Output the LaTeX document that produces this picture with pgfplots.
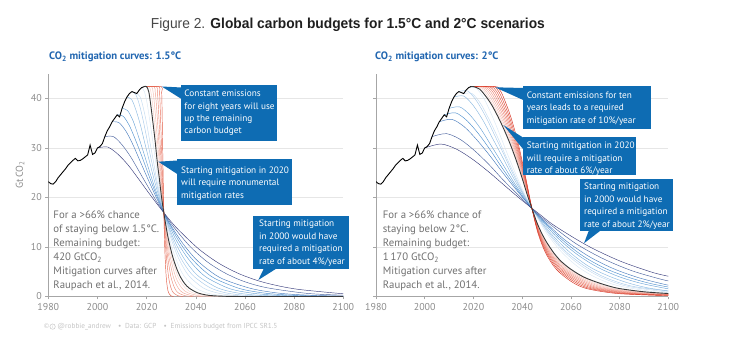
\documentclass[border=0pt]{standalone}
\usepackage{fontspec}
\setmainfont{PT Sans}
\newfontfamily\titlefont{Liberation Sans}
\newfontfamily\dejavu{DejaVu Sans}
\usepackage{graphicx}
\usepackage{pgfplots}
\pgfplotsset{compat=1.18}
\definecolor{boxblue}{HTML}{0E6CB3}
\definecolor{titleblue}{HTML}{2166B0}
\definecolor{axisgray}{HTML}{A6A6A6}
\definecolor{gridgray}{HTML}{E6E6E6}
\definecolor{tickgray}{HTML}{8C8C8C}
\definecolor{textgray}{HTML}{707070}
\definecolor{footgray}{HTML}{C4C4C4}
\definecolor{bA}{HTML}{3B3F7E}\definecolor{bB}{HTML}{4A629E}\definecolor{bC}{HTML}{4A7DBE}
\definecolor{bD}{HTML}{4F90CE}\definecolor{bE}{HTML}{6AA3D7}\definecolor{bF}{HTML}{8AB8E0}
\definecolor{bG}{HTML}{A8CAEA}\definecolor{bH}{HTML}{C4DBF0}\definecolor{bI}{HTML}{DAE8F5}
\definecolor{pA}{HTML}{F9D2CA}\definecolor{pB}{HTML}{F5BBAF}\definecolor{pC}{HTML}{F1A394}
\definecolor{pD}{HTML}{ED8B79}\definecolor{pE}{HTML}{E8735F}\definecolor{pF}{HTML}{E25A44}
\definecolor{qA}{HTML}{F9D3CC}\definecolor{qB}{HTML}{F6C0B6}\definecolor{qC}{HTML}{F3ACA0}
\definecolor{qD}{HTML}{F0978A}\definecolor{qE}{HTML}{EC8373}\definecolor{qF}{HTML}{E86E5C}
\definecolor{qG}{HTML}{E35A46}\definecolor{qH}{HTML}{DD4632}\definecolor{qI}{HTML}{D7301F}
\pgfplotsset{
  panel/.style={
    scale only axis, anchor=south west, height=222.75bp,
    xmin=1980, xmax=2100, ymin=0, ymax=45,
    axis x line=bottom, axis y line=left,
    axis line style={-, draw=axisgray, line width=0.8bp},
    xtick={1980,2000,...,2100}, ytick={0,10,20,30,40},
    ymajorgrids, grid style={draw=gridgray, line width=0.6bp},
    tick style={draw=axisgray, line width=0.6bp},
    major tick length=3bp, tick align=outside,
    tick label style={font=\fontsize{10}{12}\selectfont, text=tickgray},
    /pgf/number format/1000 sep={},
    /pgf/number format/assume math mode=true,
    clip=true,
  },
  cv/.style={smooth, tension=0.5, line width=0.45bp, mark=none, color=#1},
  blk/.style={smooth, tension=0.5, line width=0.9bp, mark=none, color=black!78},
  hist/.style={sharp plot, line width=0.9bp, mark=none, color=black},
}
\begin{document}
\begin{tikzpicture}
\path[use as bounding box] (0,0) rectangle (737bp,340bp);
% ---------------- Panel 1 ----------------
\begin{axis}[panel, at={(48.3bp,43.5bp)}, width=295bp]
\addplot[cv=bI] coordinates {(2018,42.2)(2019.1,41.4)(2020.2,39.0)(2021.3,35.5)(2022.4,31.7)(2023.5,27.9)(2024.5,24.2)(2025.6,20.7)(2026.7,17.6)(2028.9,12.5)(2031.1,8.7)(2033.3,5.9)(2035.4,4.0)(2039.8,1.8)(2044.2,0.76)(2048.5,0.32)(2052.9,0.13)(2062,0.02)};
\addplot[cv=bH] coordinates {(2016,41.0)(2017.4,40.3)(2018.7,38.0)(2020.1,34.7)(2021.4,31.0)(2022.8,27.2)(2024.1,23.6)(2025.5,20.3)(2026.8,17.2)(2029.6,12.2)(2032.3,8.5)(2035.0,5.8)(2037.7,3.9)(2043.1,1.7)(2048.5,0.75)(2053.9,0.31)(2059.4,0.13)(2070.2,0.02)};
\addplot[cv=bG] coordinates {(2014,41.4)(2015.6,40.8)(2017.2,38.5)(2018.8,35.1)(2020.3,31.4)(2021.9,27.6)(2023.5,24.0)(2025.1,20.6)(2026.7,17.5)(2029.9,12.4)(2033.0,8.6)(2036.2,5.9)(2039.4,4.0)(2045.7,1.8)(2052.0,0.76)(2058.4,0.32)(2064.7,0.13)(2077.4,0.02)};
\addplot[cv=bF] coordinates {(2012,40.3)(2013.9,39.8)(2015.7,37.6)(2017.6,34.4)(2019.4,30.7)(2021.3,27.0)(2023.1,23.5)(2025.0,20.2)(2026.8,17.2)(2030.5,12.2)(2034.2,8.5)(2037.9,5.8)(2041.6,3.9)(2049.1,1.7)(2056.5,0.75)(2063.9,0.31)(2071.3,0.13)(2086.1,0.02)};
\addplot[cv=bE] coordinates {(2010,38.0)(2012.2,37.6)(2014.4,35.6)(2016.5,32.6)(2018.7,29.2)(2020.9,25.7)(2023.1,22.3)(2025.3,19.2)(2027.5,16.3)(2031.8,11.6)(2036.2,8.1)(2040.6,5.5)(2044.9,3.7)(2053.7,1.6)(2062.4,0.71)(2071.1,0.3)(2079.8,0.12)(2097.3,0.02)};
\addplot[cv=bD] coordinates {(2008,36.7)(2010.5,36.4)(2013.0,34.5)(2015.5,31.6)(2018.0,28.4)(2020.5,25.0)(2023.0,21.7)(2025.5,18.7)(2028.0,15.9)(2033.0,11.3)(2037.9,7.9)(2042.9,5.4)(2047.9,3.6)(2057.9,1.6)(2067.9,0.69)(2077.9,0.29)(2087.8,0.12)(2100,0.04)};
\addplot[cv=bC] coordinates {(2006,35.3)(2008.8,35.1)(2011.7,33.3)(2014.5,30.6)(2017.3,27.4)(2020.1,24.2)(2023.0,21.0)(2025.8,18.1)(2028.6,15.4)(2034.3,11.0)(2039.9,7.6)(2045.6,5.2)(2051.2,3.5)(2062.6,1.6)(2073.9,0.67)(2085.2,0.28)(2096.5,0.12)(2105,0.05)};
\addplot[cv=bB] coordinates {(2003,32.3)(2006.5,32.3)(2009.9,30.7)(2013.4,28.3)(2016.8,25.4)(2020.3,22.4)(2023.7,19.5)(2027.2,16.8)(2030.6,14.3)(2037.5,10.2)(2044.4,7.1)(2051.3,4.9)(2058.2,3.3)(2065.1,2.2)(2072.1,1.5)(2085.9,0.6)(2099.7,0.26)(2103,0.2)};
\addplot[cv=bA] coordinates {(2000,30.0)(2004.1,30.2)(2008.2,28.8)(2012.4,26.6)(2016.5,23.9)(2020.6,21.1)(2024.7,18.4)(2028.8,15.8)(2032.9,13.5)(2041.2,9.6)(2049.4,6.7)(2057.6,4.6)(2065.9,3.1)(2074.1,2.1)(2082.4,1.4)(2098.8,0.6)(2102,0.5)};
% red: delayed mitigation
\addplot[cv=pA] coordinates {(2019,42.4)(2021,42.4)(2021.74,41.3)(2022.48,38.6)(2023.96,31.2)(2025.44,23.7)(2026.92,17.2)(2028.40,12.2)(2029.88,8.4)(2032.84,3.9)(2035.80,1.7)(2038.75,0.74)(2044.67,0.13)(2050.59,0.02)};
\addplot[cv=pB] coordinates {(2019,42.4)(2022,42.4)(2022.62,41.3)(2023.23,38.6)(2024.47,31.2)(2025.70,23.7)(2026.93,17.2)(2028.16,12.2)(2029.40,8.4)(2031.86,3.9)(2034.33,1.7)(2036.79,0.74)(2041.72,0.13)(2046.65,0.02)};
\addplot[cv=pC] coordinates {(2019,42.4)(2023,42.4)(2023.49,41.3)(2023.99,38.6)(2024.97,31.2)(2025.96,23.7)(2026.94,17.2)(2027.93,12.2)(2028.92,8.4)(2030.89,3.9)(2032.86,1.7)(2034.83,0.74)(2038.78,0.13)(2042.72,0.02)};
\addplot[cv=pD] coordinates {(2019,42.4)(2024,42.4)(2024.37,41.3)(2024.74,38.6)(2025.48,31.2)(2026.22,23.7)(2026.96,17.2)(2027.70,12.2)(2028.44,8.4)(2029.92,3.9)(2031.40,1.7)(2032.87,0.74)(2035.83,0.13)(2038.79,0.02)};
\addplot[cv=pE] coordinates {(2019,42.4)(2025,42.4)(2025.25,41.3)(2025.49,38.6)(2025.99,31.2)(2026.48,23.7)(2026.97,17.2)(2027.47,12.2)(2027.96,8.4)(2028.94,3.9)(2029.93,1.7)(2030.92,0.74)(2032.89,0.13)(2034.86,0.02)};
\addplot[cv=pF] coordinates {(2019,42.4)(2026,42.4)(2026.12,41.3)(2026.25,38.6)(2026.49,31.2)(2026.74,23.7)(2026.99,17.2)(2027.23,12.2)(2027.48,8.4)(2027.97,3.9)(2028.47,1.7)(2028.96,0.74)(2029.94,0.13)(2030.93,0.02)};
% black: start mitigation 2020
\addplot[blk] coordinates {(2019,42.4)(2020,42.4)(2020.9,41.3)(2021.7,38.6)(2022.6,35.0)(2023.5,31.2)(2024.3,27.3)(2025.2,23.7)(2026.0,20.3)(2026.9,17.2)(2028.6,12.2)(2030.4,8.4)(2032.1,5.8)(2033.8,3.9)(2035.5,2.6)(2037.3,1.7)(2040.7,0.74)(2044.2,0.31)(2047.6,0.13)(2054.5,0.02)(2070,0)(2100,0)};
% historical
\addplot[hist] coordinates {(1980,23.2)(1981,22.8)(1982,22.7)(1983,23.2)(1984,24.0)(1985,24.6)(1986,25.2)(1987,25.8)(1988,26.5)(1989,27.0)(1990,27.5)(1991,27.9)(1992,27.4)(1993,27.5)(1994,27.8)(1995,28.2)(1996,28.6)(1997,30.6)(1998,28.7)(1999,29.0)(2000,30.0)(2001,30.3)(2002,30.9)(2003,32.3)(2004,33.5)(2005,34.3)(2006,35.3)(2007,36.0)(2008,36.7)(2009,36.3)(2010,38.0)(2011,39.3)(2012,40.3)(2013,41.0)(2014,41.4)(2015,41.2)(2016,41.0)(2017,41.7)(2018,42.2)(2019,42.4)};
\end{axis}
% ---------------- Panel 2 ----------------
\begin{axis}[panel, at={(376bp,43.5bp)}, width=292.3bp, yticklabels={}]
\addplot[cv=bI] coordinates {(2018,42.2)(2021.1,42.1)(2024.3,40.0)(2027.4,36.8)(2030.6,33.0)(2033.7,29.1)(2036.9,25.3)(2040.0,21.8)(2043.2,18.6)(2049.5,13.2)(2055.8,9.2)(2062.1,6.3)(2068.4,4.3)(2074.7,2.9)(2081.0,2.0)(2093.5,1.0)(2100,0.75)};
\addplot[cv=bH] coordinates {(2016,41.0)(2019.4,41.0)(2022.9,39.0)(2026.3,35.9)(2029.8,32.3)(2033.2,28.5)(2036.7,24.8)(2040.1,21.3)(2043.6,18.2)(2050.5,12.9)(2057.3,9.0)(2064.2,6.2)(2071.1,4.2)(2078.0,2.8)(2084.9,1.9)(2098.7,0.95)(2102,0.85)};
\addplot[cv=bG] coordinates {(2014,41.4)(2017.7,41.5)(2021.3,39.5)(2025.0,36.4)(2028.6,32.7)(2032.3,28.9)(2035.9,25.1)(2039.6,21.6)(2043.2,18.4)(2050.6,13.1)(2057.9,9.1)(2065.2,6.3)(2072.5,4.2)(2079.8,2.8)(2087.1,1.9)(2101.7,1.0)};
\addplot[cv=bF] coordinates {(2012,40.3)(2016.0,40.5)(2019.9,38.6)(2023.9,35.6)(2027.8,32.0)(2031.8,28.3)(2035.7,24.6)(2039.7,21.2)(2043.6,18.1)(2051.5,12.9)(2059.4,9.0)(2067.3,6.1)(2075.2,4.2)(2083.1,2.8)(2091.0,1.8)(2098.9,1.2)(2102,1.0)};
\addplot[cv=bE] coordinates {(2010,38.0)(2014.4,38.3)(2018.7,36.6)(2023.1,33.8)(2027.4,30.4)(2031.8,26.9)(2036.2,23.4)(2040.5,20.2)(2044.9,17.2)(2053.6,12.3)(2062.3,8.6)(2071.0,5.9)(2079.8,4.0)(2088.5,2.7)(2097.2,1.8)(2100.7,1.5)};
\addplot[cv=bD] coordinates {(2008,36.7)(2012.7,37.1)(2017.4,35.5)(2022.2,32.8)(2026.9,29.6)(2031.6,26.1)(2036.3,22.8)(2041.0,19.6)(2045.7,16.8)(2055.2,12.0)(2064.6,8.3)(2074.0,5.7)(2083.5,3.9)(2092.9,2.6)(2102.4,1.7)};
\addplot[cv=bC] coordinates {(2006,35.3)(2011.1,35.8)(2016.2,34.3)(2021.3,31.7)(2026.5,28.6)(2031.6,25.3)(2036.7,22.1)(2041.8,19.1)(2046.9,16.3)(2057.1,11.6)(2067.4,8.1)(2077.6,5.6)(2087.8,3.8)(2098.0,2.5)(2100.1,2.3)};
\addplot[cv=bB] coordinates {(2003,32.3)(2008.9,32.9)(2014.7,31.7)(2020.6,29.4)(2026.5,26.6)(2032.3,23.5)(2038.2,20.6)(2044.1,17.7)(2049.9,15.2)(2061.7,10.8)(2073.4,7.6)(2085.1,5.2)(2096.9,3.5)(2101.6,3.0)};
\addplot[cv=bA] coordinates {(2000,30.0)(2006.7,30.8)(2013.3,29.7)(2020.0,27.6)(2026.7,25.0)(2033.3,22.2)(2040.0,19.4)(2046.7,16.8)(2053.3,14.3)(2066.7,10.3)(2080.0,7.2)(2093.3,4.9)(2100,4.1)};
% red: delayed mitigation
\addplot[cv=qA] coordinates {(2019,42.4)(2021,42.4)(2023.40,41.9)(2025.79,40.5)(2030.58,36.4)(2035.38,30.9)(2040.17,23.9)(2044.00,17.8)(2047.83,12.8)(2052.63,8.8)(2059.33,5.5)(2068.92,3.0)(2078.50,1.6)(2097.67,0.6)(2126.42,0.2)};
\addplot[cv=qB] coordinates {(2019,42.4)(2022,42.4)(2024.29,41.9)(2026.58,40.5)(2031.17,36.4)(2035.75,30.9)(2040.33,23.9)(2044,17.8)(2047.67,12.8)(2052.25,8.8)(2058.67,5.5)(2067.83,3.0)(2077,1.6)(2095.33,0.6)(2122.83,0.2)};
\addplot[cv=qC] coordinates {(2019,42.4)(2023,42.4)(2025.19,41.9)(2027.38,40.5)(2031.75,36.4)(2036.13,30.9)(2040.5,23.9)(2044,17.8)(2047.5,12.8)(2051.88,8.8)(2058,5.5)(2066.75,3.0)(2075.5,1.6)(2093,0.6)(2119.25,0.2)};
\addplot[cv=qD] coordinates {(2019,42.4)(2024,42.4)(2026.08,41.9)(2028.17,40.5)(2032.33,36.4)(2036.5,30.9)(2040.67,23.9)(2044,17.8)(2047.33,12.8)(2051.5,8.8)(2057.33,5.5)(2065.67,3.0)(2074,1.6)(2090.67,0.6)(2115.67,0.2)};
\addplot[cv=qE] coordinates {(2019,42.4)(2025,42.4)(2026.98,41.9)(2028.96,40.5)(2032.92,36.4)(2036.88,30.9)(2040.83,23.9)(2044,17.8)(2047.17,12.8)(2051.13,8.8)(2056.67,5.5)(2064.58,3.0)(2072.5,1.6)(2088.33,0.6)(2112.08,0.2)};
\addplot[cv=qF] coordinates {(2019,42.4)(2026,42.4)(2027.88,41.9)(2029.75,40.5)(2033.5,36.4)(2037.25,30.9)(2041,23.9)(2044,17.8)(2047,12.8)(2050.75,8.8)(2056,5.5)(2063.5,3.0)(2071,1.6)(2086,0.6)(2108.5,0.2)};
\addplot[cv=qG] coordinates {(2019,42.4)(2027,42.4)(2028.77,41.9)(2030.54,40.5)(2034.08,36.4)(2037.63,30.9)(2041.17,23.9)(2044,17.8)(2046.83,12.8)(2050.38,8.8)(2055.33,5.5)(2062.42,3.0)(2069.5,1.6)(2083.67,0.6)(2104.92,0.2)};
\addplot[cv=qH] coordinates {(2019,42.4)(2028,42.4)(2029.67,41.9)(2031.33,40.5)(2034.67,36.4)(2038,30.9)(2041.33,23.9)(2044,17.8)(2046.67,12.8)(2050,8.8)(2054.67,5.5)(2061.33,3.0)(2068,1.6)(2081.33,0.6)(2101.33,0.2)};
\addplot[cv=qI] coordinates {(2019,42.4)(2029,42.4)(2030.56,41.9)(2032.13,40.5)(2035.25,36.4)(2038.38,30.9)(2041.5,23.9)(2044,17.8)(2046.5,12.8)(2049.63,8.8)(2054,5.5)(2060.25,3.0)(2066.5,1.6)(2079,0.6)(2097.75,0.2)};
% black: start mitigation 2020
\addplot[blk] coordinates {(2019,42.4)(2020,42.4)(2022.5,41.9)(2025,40.5)(2027.5,38.7)(2030,36.4)(2032.5,33.8)(2035,30.9)(2037.5,27.6)(2040,23.9)(2042,20.7)(2044,17.8)(2046,15.0)(2048,12.8)(2050,11.0)(2053,8.8)(2056,7.1)(2060,5.5)(2065,4.0)(2070,3.0)(2075,2.2)(2080,1.6)(2090,0.95)(2100,0.6)};
% historical
\addplot[hist] coordinates {(1980,23.2)(1981,22.8)(1982,22.7)(1983,23.2)(1984,24.0)(1985,24.6)(1986,25.2)(1987,25.8)(1988,26.5)(1989,27.0)(1990,27.5)(1991,27.9)(1992,27.4)(1993,27.5)(1994,27.8)(1995,28.2)(1996,28.6)(1997,30.6)(1998,28.7)(1999,29.0)(2000,30.0)(2001,30.3)(2002,30.9)(2003,32.3)(2004,33.5)(2005,34.3)(2006,35.3)(2007,36.0)(2008,36.7)(2009,36.3)(2010,38.0)(2011,39.3)(2012,40.3)(2013,41.0)(2014,41.4)(2015,41.2)(2016,41.0)(2017,41.7)(2018,42.2)(2019,42.4)};
\end{axis}
% ---------------- Annotations (pixel coordinates, y downwards) ----------------
\begin{scope}[x=1bp, y=-1bp, yshift=340bp]
% title
\node[anchor=base west, inner sep=0] at (150.7,29) {\resizebox{394bp}{\height}{\titlefont\fontsize{14.5}{16}\selectfont\color{black!72}Figure 2. \textbf{\color{black!88}Global carbon budgets for 1.5°C and 2°C scenarios}}};
% panel titles
\node[anchor=base west, inner sep=0, text=titleblue, font=\bfseries\fontsize{10.8}{13}\selectfont] at (49,60) {CO\textsubscript{2} mitigation curves: 1.5°C};
\node[anchor=base west, inner sep=0, text=titleblue, font=\bfseries\fontsize{10.8}{13}\selectfont] at (375,60) {CO\textsubscript{2} mitigation curves: 2°C};
% y label
\node[rotate=90, text=tickgray, font=\fontsize{10}{12}\selectfont] at (20,175) {Gt\,CO\textsubscript{2}};
% panel texts
\begin{scope}[every node/.style={anchor=base west, inner sep=0, text=textgray, font=\fontsize{10.8}{14}\selectfont}]
\node at (53.3,219) {For a >66\% chance};
\node at (53.3,233) {of staying below 1.5°C.};
\node at (53.3,247) {Remaining budget:};
\node at (53.3,261) {420 GtCO\textsubscript{2}};
\node at (53.3,275) {Mitigation curves after};
\node at (53.3,289) {Raupach et al., 2014.};
\node at (382.7,219) {For a >66\% chance of};
\node at (382.7,233) {staying below 2°C.};
\node at (382.7,247) {Remaining budget:};
\node at (382.7,261) {1\,170 GtCO\textsubscript{2}};
\node at (382.7,275) {Mitigation curves after};
\node at (382.7,289) {Raupach et al., 2014.};
\end{scope}
% callout boxes
\fill[boxblue] (181,85) rectangle (276.7,140.7);
\fill[boxblue] (161.7,86.5) -- (181.5,87.5) -- (181.5,99) -- cycle;
\fill[boxblue] (176.7,159.3) rectangle (291.7,205);
\fill[boxblue] (158.3,161.7) -- (177.2,160.5) -- (177.2,174) -- cycle;
\fill[boxblue] (253.3,216) rectangle (349.3,268.7);
\fill[boxblue] (258.3,280) -- (264,268.2) -- (277,268.2) -- cycle;
\fill[boxblue] (522.7,86) rectangle (650.7,129.3);
\fill[boxblue] (495,87.3) -- (523.2,88) -- (523.2,100) -- cycle;
\fill[boxblue] (523.3,137.3) rectangle (636,175);
\fill[boxblue] (503.3,125) -- (523.8,138) -- (523.8,150) -- cycle;
\fill[boxblue] (580,179) rectangle (672.7,230.7);
\fill[boxblue] (584,243.3) -- (589,230.2) -- (601,230.2) -- cycle;
\begin{scope}[every node/.style={anchor=base west, inner sep=0, text=white, font=\fontsize{9.3}{11}\selectfont}]
\node at (184.3,97) {Constant emissions};
\node at (184.3,109.2) {for eight years will use};
\node at (184.3,121.4) {up the remaining};
\node at (184.3,133.6) {carbon budget};
\node at (181,173.3) {Starting mitigation in 2020};
\node at (181,185.8) {will require monumental};
\node at (181,198.2) {mitigation rates};
\node at (259,226.5) {Starting mitigation};
\node at (259,239.1) {in 2000 would have};
\node at (259,251.7) {required a mitigation};
\node at (259,264.3) {rate of about 4\%/year};
\node at (526.7,98.3) {Constant emissions for ten};
\node at (526.7,110.8) {years leads to a required};
\node at (526.7,123.3) {mitigation rate of 10\%/year};
\node at (526.7,149) {Starting mitigation in 2020};
\node at (526.7,161.3) {will require a mitigation};
\node at (526.7,173.6) {rate of about 6\%/year};
\node at (584,190) {Starting mitigation};
\node at (584,202.4) {in 2000 would have};
\node at (584,214.8) {required a mitigation};
\node at (584,227.2) {rate of about 2\%/year};
\end{scope}
% footer
\draw[footgray, line width=0.45bp] (52.6,326.6) circle (2.7);
\node[inner sep=0, text=footgray, font=\fontsize{4.6}{5}\selectfont] at (52.6,326.5) {i};
\node[anchor=base west, inner sep=0, text=footgray, font=\fontsize{7.3}{9}\selectfont] at (43.3,329) {{\dejavu\fontsize{6.5}{8}\selectfont ©}\hspace{7.5bp}@robbie\_andrew\quad•\enspace Data: GCP\quad•\enspace Emissions budget from IPCC SR1.5};
\end{scope}
\end{tikzpicture}
\end{document}
